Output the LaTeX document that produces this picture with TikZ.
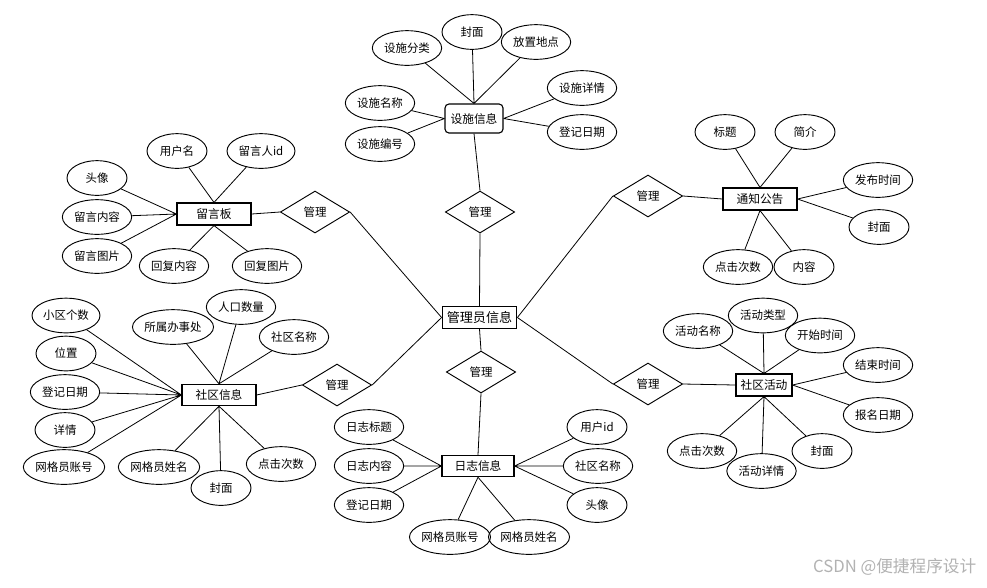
\documentclass[tikz,border=0pt]{standalone}
\usepackage{fontspec}
\setmainfont{Noto Sans CJK SC}
\usetikzlibrary{shapes.geometric}

\tikzset{
  attr/.style={draw, ellipse, line width=0.7pt, inner sep=0pt, minimum width=#1, minimum height=26pt, font=\fontsize{8.6}{10}\selectfont},
  attr/.default=45pt,
  ent/.style={draw, rectangle, line width=0.85pt, inner sep=0pt, minimum height=16.5pt, font=\fontsize{8.8}{10}\selectfont},
  rel/.style={draw, diamond, line width=0.7pt, inner sep=0pt, minimum width=52pt, minimum height=31.5pt, font=\fontsize{8.6}{10}\selectfont},
  link/.style={line width=0.6pt}
}

\begin{document}
\begin{tikzpicture}[x=0.75pt, y=-0.75pt]
            \useasboundingbox (0,0) rectangle (987,587);

            % centre
            \node[ent, minimum width=56pt, font=\fontsize{9.8}{11}\selectfont] (admin) at (479.5,317.5) {管理员信息};

            % relations
            \node[rel] (relFac) at (480,212) {管理};
            \node[rel] (relMsg) at (315,212) {管理};
            \node[rel] (relNot) at (648,196) {管理};
            \node[rel] (relAct) at (648,384) {管理};
            \node[rel] (relCom) at (337,385) {管理};
            \node[rel] (relLog) at (481,372) {管理};

            % entities
            \node[ent, rounded corners=3pt, minimum width=43.5pt, minimum height=21.75pt] (fac) at (474,118.5) {设施信息};
            \node[ent, minimum width=55.5pt] (msg) at (214,214) {留言板};
            \node[ent, minimum width=55.5pt] (notice) at (760,199) {通知公告};
            \node[ent, minimum width=42pt] (act) at (764,385) {社区活动};
            \node[ent, minimum width=55.5pt, minimum height=16pt] (com) at (219,395) {社区信息};
            \node[ent, minimum width=54pt, minimum height=16pt] (log) at (478,466) {日志信息};

            % facility attributes
            \node[attr] (facCover) at (472,32) {封面};
            \node[attr=52pt] (facType) at (407,48) {设施分类};
            \node[attr=52pt] (facPlace) at (536,42) {放置地点};
            \node[attr=52pt] (facDetail) at (582,88) {设施详情};
            \node[attr=52pt] (facDate) at (582,132) {登记日期};
            \node[attr=52pt] (facName) at (380,103) {设施名称};
            \node[attr=52pt] (facNo) at (380,144) {设施编号};

            % message board attributes
            \node[attr] (msgUser) at (177,151) {用户名};
            \node[attr=51pt] (msgId) at (261,151) {留言人id};
            \node[attr] (msgHead) at (97,178) {头像};
            \node[attr=52pt] (msgText) at (97,217) {留言内容};
            \node[attr=52pt] (msgPic) at (97,256) {留言图片};
            \node[attr=52pt] (msgReText) at (174,266) {回复内容};
            \node[attr=52pt] (msgRePic) at (267,266) {回复图片};

            % notice attributes
            \node[attr] (notTitle) at (725,132) {标题};
            \node[attr] (notBrief) at (805,132) {简介};
            \node[attr=52pt] (notTime) at (878,180) {发布时间};
            \node[attr] (notCover) at (879,227) {封面};
            \node[attr=52pt] (notClick) at (738,267) {点击次数};
            \node[attr] (notText) at (804,267) {内容};

            % activity attributes
            \node[attr=52pt] (actName) at (698,331) {活动名称};
            \node[attr=52pt] (actType) at (763,315.5) {活动类型};
            \node[attr=52pt] (actStart) at (820,335.5) {开始时间};
            \node[attr=52pt] (actEnd) at (878,365) {结束时间};
            \node[attr=52pt] (actSign) at (878,415) {报名日期};
            \node[attr] (actCover) at (822,451) {封面};
            \node[attr=52pt] (actDetail) at (761.5,471) {活动详情};
            \node[attr=52pt] (actClick) at (702,451) {点击次数};

            % community attributes
            \node[attr=51pt] (comNum) at (66,315.5) {小区个数};
            \node[attr] (comPos) at (66,353.5) {位置};
            \node[attr=52pt] (comDate) at (65,392) {登记日期};
            \node[attr] (comDetail) at (65,430) {详情};
            \node[attr=61pt] (comAcc) at (64,467) {网格员账号};
            \node[attr=60pt] (comOffice) at (173,327) {所属办事处};
            \node[attr=52pt] (comPeople) at (241,307) {人口数量};
            \node[attr=52pt] (comName) at (294,337) {社区名称};
            \node[attr=61pt] (comGrid) at (159,467) {网格员姓名};
            \node[attr] (comCover) at (221,488) {封面};
            \node[attr=52pt] (comClick) at (281,464) {点击次数};

            % log attributes
            \node[attr=52pt] (logTitle) at (369,427) {日志标题};
            \node[attr=52pt] (logText) at (369,466) {日志内容};
            \node[attr=52pt] (logDate) at (369,505) {登记日期};
            \node[attr] (logUser) at (597,427) {用户id};
            \node[attr=52pt] (logCom) at (598,466) {社区名称};
            \node[attr] (logHead) at (597,505) {头像};
            \node[attr=60pt] (logAcc) at (450,537) {网格员账号};
            \node[attr=60pt] (logGrid) at (529,537) {网格员姓名};

            % relation links
            \draw[link] (fac.south) -- (relFac.north) (relFac.south) -- (admin.north);
            \draw[link] (msg.east) -- (relMsg.west) (relMsg.east) -- (admin.west);
            \draw[link] (admin.east) -- (relNot.west) (relNot.east) -- (notice.west);
            \draw[link] (admin.east) -- (relAct.west) (relAct.east) -- (act.west);
            \draw[link] (com.east) -- (relCom.west) (relCom.east) -- (admin.west);
            \draw[link] (admin.south) -- (relLog.north) (relLog.south) -- (log.north);

            % attribute links
            \draw[link] (facCover) -- (fac.north) (facType) -- (fac.north) (facPlace) -- (fac.north);
            \draw[link] (facDetail) -- (fac.east) (facDate) -- (fac.east);
            \draw[link] (facName) -- (fac.west) (facNo) -- (fac.west);

            \draw[link] (msgUser) -- (msg.north) (msgId) -- (msg.north);
            \draw[link] (msgHead) -- (msg.west) (msgText) -- (msg.west) (msgPic) -- (msg.west);
            \draw[link] (msgReText) -- (msg.south) (msgRePic) -- (msg.south);

            \draw[link] (notTitle) -- (notice.north) (notBrief) -- (notice.north);
            \draw[link] (notTime) -- (notice.east) (notCover) -- (notice.east);
            \draw[link] (notClick) -- (notice.south) (notText) -- (notice.south);

            \draw[link] (actName) -- (act.north) (actType) -- (act.north) (actStart) -- (act.north);
            \draw[link] (actEnd) -- (act.east) (actSign) -- (act.east);
            \draw[link] (actClick) -- (act.south) (actDetail) -- (act.south) (actCover) -- (act.south);

            \draw[link] (comNum) -- (com.west) (comPos) -- (com.west) (comDate) -- (com.west)
                (comDetail) -- (com.west) (comAcc) -- (com.west);
            \draw[link] (comOffice) -- (com.north) (comPeople) -- (com.north) (comName) -- (com.north);
            \draw[link] (comGrid) -- (com.south) (comCover) -- (com.south) (comClick) -- (com.south);

            \draw[link] (logTitle) -- (log.west) (logText) -- (log.west) (logDate) -- (log.west);
            \draw[link] (logUser) -- (log.east) (logCom) -- (log.east) (logHead) -- (log.east);
            \draw[link] (logAcc) -- (log.south) (logGrid) -- (log.south);

            % watermark
            \node[anchor=east, text=black!30, font=\fontsize{12.5}{14}\selectfont] (mark) at (981,567) {CSDN @便捷程序设计};
        \end{tikzpicture}
\end{document}
